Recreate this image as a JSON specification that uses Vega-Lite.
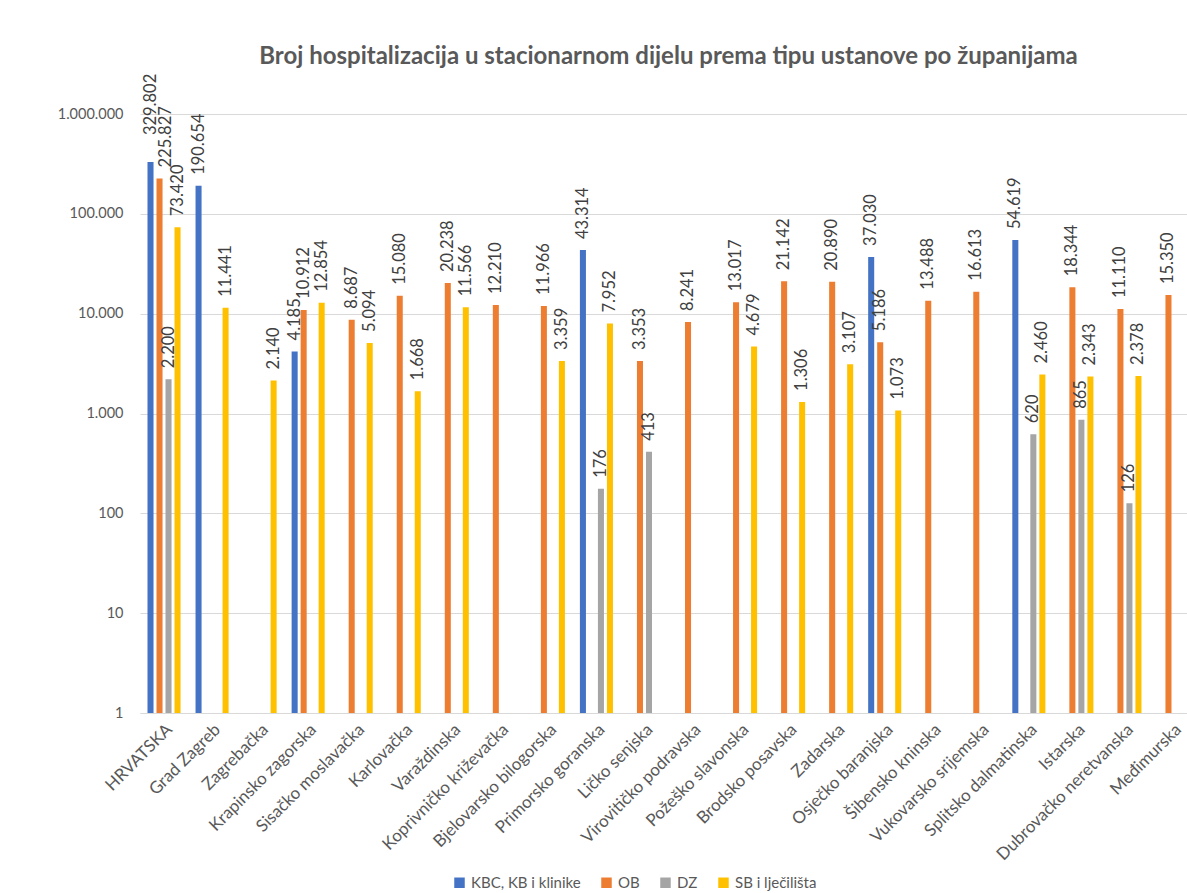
{
  "$schema": "https://vega.github.io/schema/vega-lite/v6.json",
  "width": 1057,
  "height": 599,
  "autosize": {"type": "none"},
  "padding": {"left": 140, "top": 114, "right": 0, "bottom": 180},
  "background": "white",
  "config": {
    "locale": {"number": {"decimal": ",", "thousands": ".", "grouping": [3], "currency": ["", " €"]}},
    "font": "Lato",
    "view": {"stroke": null}
  },
  "title": {
    "text": "Broj hospitalizacija u stacionarnom dijelu prema tipu ustanove po županijama",
    "fontSize": 24,
    "fontWeight": "bold",
    "color": "#595959",
    "font": "Lato",
    "anchor": "middle",
    "offset": 5
  },
  "data": {
    "values": [
      {"zupanija": "HRVATSKA", "tip": "KBC, KB i klinike", "broj": 329802},
      {"zupanija": "HRVATSKA", "tip": "OB", "broj": 225827},
      {"zupanija": "HRVATSKA", "tip": "DZ", "broj": 2200},
      {"zupanija": "HRVATSKA", "tip": "SB i lječilišta", "broj": 73420},
      {"zupanija": "Grad Zagreb", "tip": "KBC, KB i klinike", "broj": 190654},
      {"zupanija": "Grad Zagreb", "tip": "SB i lječilišta", "broj": 11441},
      {"zupanija": "Zagrebačka", "tip": "SB i lječilišta", "broj": 2140},
      {"zupanija": "Krapinsko zagorska", "tip": "KBC, KB i klinike", "broj": 4185},
      {"zupanija": "Krapinsko zagorska", "tip": "OB", "broj": 10912},
      {"zupanija": "Krapinsko zagorska", "tip": "SB i lječilišta", "broj": 12854},
      {"zupanija": "Sisačko moslavačka", "tip": "OB", "broj": 8687},
      {"zupanija": "Sisačko moslavačka", "tip": "SB i lječilišta", "broj": 5094},
      {"zupanija": "Karlovačka", "tip": "OB", "broj": 15080},
      {"zupanija": "Karlovačka", "tip": "SB i lječilišta", "broj": 1668},
      {"zupanija": "Varaždinska", "tip": "OB", "broj": 20238},
      {"zupanija": "Varaždinska", "tip": "SB i lječilišta", "broj": 11566},
      {"zupanija": "Koprivničko križevačka", "tip": "OB", "broj": 12210},
      {"zupanija": "Bjelovarsko bilogorska", "tip": "OB", "broj": 11966},
      {"zupanija": "Bjelovarsko bilogorska", "tip": "SB i lječilišta", "broj": 3359},
      {"zupanija": "Primorsko goranska", "tip": "KBC, KB i klinike", "broj": 43314},
      {"zupanija": "Primorsko goranska", "tip": "DZ", "broj": 176},
      {"zupanija": "Primorsko goranska", "tip": "SB i lječilišta", "broj": 7952},
      {"zupanija": "Ličko senjska", "tip": "OB", "broj": 3353},
      {"zupanija": "Ličko senjska", "tip": "DZ", "broj": 413},
      {"zupanija": "Virovitičko podravska", "tip": "OB", "broj": 8241},
      {"zupanija": "Požeško slavonska", "tip": "OB", "broj": 13017},
      {"zupanija": "Požeško slavonska", "tip": "SB i lječilišta", "broj": 4679},
      {"zupanija": "Brodsko posavska", "tip": "OB", "broj": 21142},
      {"zupanija": "Brodsko posavska", "tip": "SB i lječilišta", "broj": 1306},
      {"zupanija": "Zadarska", "tip": "OB", "broj": 20890},
      {"zupanija": "Zadarska", "tip": "SB i lječilišta", "broj": 3107},
      {"zupanija": "Osječko baranjska", "tip": "KBC, KB i klinike", "broj": 37030},
      {"zupanija": "Osječko baranjska", "tip": "OB", "broj": 5186},
      {"zupanija": "Osječko baranjska", "tip": "SB i lječilišta", "broj": 1073},
      {"zupanija": "Šibensko kninska", "tip": "OB", "broj": 13488},
      {"zupanija": "Vukovarsko srijemska", "tip": "OB", "broj": 16613},
      {"zupanija": "Splitsko dalmatinska", "tip": "KBC, KB i klinike", "broj": 54619},
      {"zupanija": "Splitsko dalmatinska", "tip": "DZ", "broj": 620},
      {"zupanija": "Splitsko dalmatinska", "tip": "SB i lječilišta", "broj": 2460},
      {"zupanija": "Istarska", "tip": "OB", "broj": 18344},
      {"zupanija": "Istarska", "tip": "DZ", "broj": 865},
      {"zupanija": "Istarska", "tip": "SB i lječilišta", "broj": 2343},
      {"zupanija": "Dubrovačko neretvanska", "tip": "OB", "broj": 11110},
      {"zupanija": "Dubrovačko neretvanska", "tip": "DZ", "broj": 126},
      {"zupanija": "Dubrovačko neretvanska", "tip": "SB i lječilišta", "broj": 2378},
      {"zupanija": "Međimurska", "tip": "OB", "broj": 15350}
    ]
  },
  "encoding": {
    "x": {
      "field": "zupanija",
      "type": "nominal",
      "sort": null,
      "scale": {"paddingInner": 0.25, "paddingOuter": 0.125},
      "axis": {
        "title": null,
        "labelAngle": -45,
        "labelAlign": "right",
        "labelBaseline": "top",
        "labelFontSize": 17,
        "labelColor": "#595959",
        "labelPadding": 8,
        "labelLimit": 400,
        "ticks": false,
        "domainColor": "#d9d9d9",
        "domainWidth": 1,
        "grid": false
      }
    },
    "xOffset": {
      "field": "tip",
      "type": "nominal",
      "sort": ["KBC, KB i klinike", "OB", "DZ", "SB i lječilišta"],
      "scale": {"paddingInner": 0.33, "paddingOuter": 0.165}
    },
    "y": {
      "field": "broj",
      "type": "quantitative",
      "scale": {"type": "log", "domain": [1, 1000000]},
      "axis": {
        "title": null,
        "values": [1, 10, 100, 1000, 10000, 100000, 1000000],
        "format": ",d",
        "labelFontSize": 14.5,
        "labelColor": "#595959",
        "labelPadding": 17,
        "ticks": false,
        "domain": false,
        "grid": true,
        "gridColor": "#d9d9d9",
        "gridWidth": 1
      }
    }
  },
  "layer": [
    {
      "mark": {"type": "bar"},
      "encoding": {
        "y2": {"datum": 1},
        "color": {
          "field": "tip",
          "type": "nominal",
          "sort": ["KBC, KB i klinike", "OB", "DZ", "SB i lječilišta"],
          "scale": {
            "domain": ["KBC, KB i klinike", "OB", "DZ", "SB i lječilišta"],
            "range": ["#4472C4", "#ED7D31", "#A5A5A5", "#FFC000"]
          },
          "legend": {
            "title": null,
            "orient": "none",
            "direction": "horizontal",
            "legendX": 312,
            "legendY": 761,
            "symbolType": "square",
            "symbolSize": 110,
            "symbolStrokeWidth": 0,
            "labelFontSize": 15,
            "labelColor": "#595959",
            "columnPadding": 18,
            "labelOffset": 4
          }
        }
      }
    },
    {
      "transform": [{"filter": "datum.broj != 329802 && datum.broj != 225827"}],
      "mark": {
        "type": "text",
        "angle": 270,
        "align": "left",
        "baseline": "middle",
        "dx": 11,
        "fontSize": 16.5,
        "color": "#404040"
      },
      "encoding": {
        "text": {"field": "broj", "type": "quantitative", "format": ",d"}
      }
    },
    {
      "transform": [{"filter": "datum.broj == 329802"}],
      "mark": {
        "type": "text",
        "angle": 270,
        "align": "left",
        "baseline": "middle",
        "dx": 27,
        "dy": 0,
        "fontSize": 16.5,
        "color": "#404040"
      },
      "encoding": {
        "text": {"field": "broj", "type": "quantitative", "format": ",d"}
      }
    },
    {
      "transform": [{"filter": "datum.broj == 225827"}],
      "mark": {
        "type": "text",
        "angle": 270,
        "align": "left",
        "baseline": "middle",
        "dx": 11,
        "dy": 6,
        "fontSize": 16.5,
        "color": "#404040"
      },
      "encoding": {
        "text": {"field": "broj", "type": "quantitative", "format": ",d"}
      }
    }
  ]
}
